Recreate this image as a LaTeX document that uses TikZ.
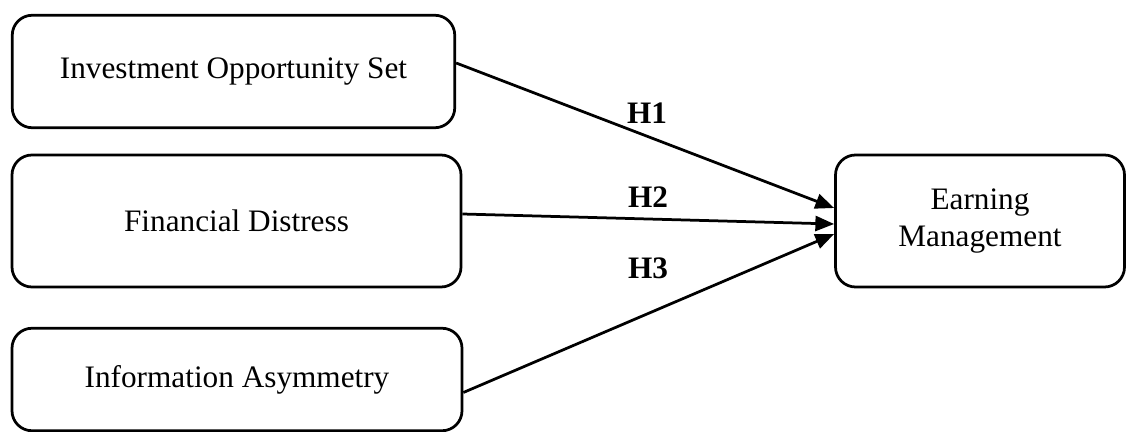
\documentclass[tikz,border=0pt]{standalone}
\usepackage{fontspec}
\setmainfont{Liberation Serif}
\usetikzlibrary{positioning, arrows.meta}

\begin{document}
\begin{tikzpicture}[
  x=0.4pt, y=-0.4pt,
  font=\fontsize{12.5}{15}\selectfont,
  box/.style={draw, line width=1.1pt, rounded corners=8pt, align=center, inner sep=0pt},
  path/.style={-{Triangle[length=7.5pt, width=6pt]}, line width=1.1pt},
  hyp/.style={font=\fontsize{12.5}{15}\selectfont\bfseries, inner sep=1pt},
]
\useasboundingbox (0,0) rectangle (1126,432);
% independent variables
\node[box, minimum width=177pt, minimum height=45pt] (ios) at (233.5, 71.5) {Investment Opportunity Set};
\node[box, minimum width=179.6pt, minimum height=52.8pt] (fd) at (236.5, 221) {Financial Distress};
\node[box, minimum width=180pt, minimum height=41pt] (ia) at (237, 379.5) {Information Asymmetry};
% dependent variable
\node[box, minimum width=115.6pt, minimum height=52.8pt] (em) at (980, 221) {Earning\\ Management};
% hypotheses
\draw[path] ([yshift=3.4pt]ios.east) -- ([yshift=5.2pt]em.west);
\draw[path] ([yshift=2.8pt]fd.east) -- ([yshift=-1.2pt]em.west);
\draw[path] ([yshift=-5.2pt]ia.east) -- ([yshift=-5.2pt]em.west);
\node[hyp] (h1) at (647, 113) {H1};
\node[hyp] (h2) at (648, 197) {H2};
\node[hyp] (h3) at (648, 268) {H3};
\end{tikzpicture}
\end{document}
